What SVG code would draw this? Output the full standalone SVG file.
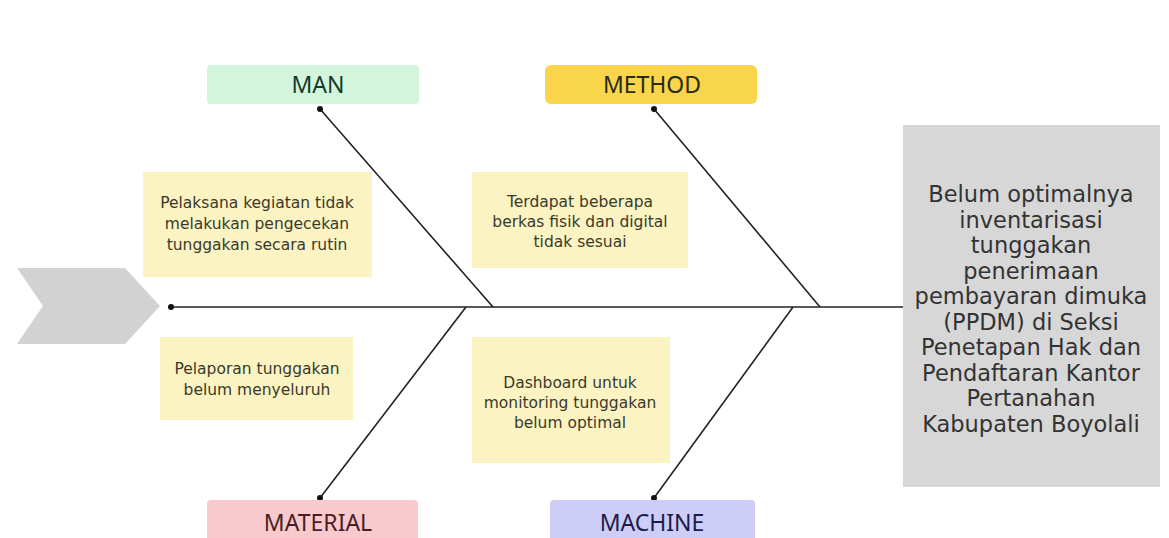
<svg xmlns="http://www.w3.org/2000/svg" width="1169" height="538" viewBox="0 0 1169 538">
<style>
.lbl{font-family:"Noto Sans","DejaVu Sans",sans-serif;font-size:23px;text-anchor:middle}
.cause{font-family:"DejaVu Sans","Noto Sans",sans-serif;font-size:15.5px;fill:#3a3a2a;text-anchor:middle}
.effect{font-family:"DejaVu Sans","Noto Sans",sans-serif;font-size:22.5px;fill:#333;text-anchor:middle}
.bone{stroke:#222;stroke-width:1.6;fill:none}
.dot{fill:#111}
.cbox{fill:#fbf3c2}
</style>
<rect width="1169" height="538" fill="#ffffff"/>
<g id="tail">
<path d="M17,268 L125,268 L160,306 L125,344 L17,344 L43,306 Z" fill="#d2d2d2"/>
</g>
<g id="connectors">
<line class="bone" x1="171" y1="307" x2="905" y2="307"/>
<circle class="dot" cx="171" cy="307" r="3"/>
<line class="bone" x1="320" y1="109" x2="493" y2="307"/>
<circle class="dot" cx="320" cy="109" r="3"/>
<line class="bone" x1="654" y1="109" x2="820" y2="307"/>
<circle class="dot" cx="654" cy="109" r="3"/>
<line class="bone" x1="320" y1="498" x2="466" y2="307"/>
<circle class="dot" cx="320" cy="498" r="3"/>
<line class="bone" x1="654" y1="498" x2="793" y2="307"/>
<circle class="dot" cx="654" cy="498" r="3"/>
</g>
<g id="man">
<rect x="207" y="65" width="212" height="39" rx="4" fill="#d3f5dc"/>
<text class="lbl" x="318" y="93" fill="#173a2b">MAN</text>
</g>
<g id="method">
<rect x="545" y="65" width="212" height="39" rx="6" fill="#f8d54b"/>
<text class="lbl" x="652" y="93" fill="#2b2a12">METHOD</text>
</g>
<g id="material">
<rect x="207" y="500" width="211" height="45" rx="4" fill="#f8c9cd"/>
<text class="lbl" x="318" y="531" fill="#4a1d24">MATERIAL</text>
</g>
<g id="machine">
<rect x="550" y="500" width="205" height="45" rx="4" fill="#cdcdf7"/>
<text class="lbl" x="652" y="531" fill="#1c1c4a">MACHINE</text>
</g>
<g id="cause-man">
<rect class="cbox" x="143" y="172" width="229" height="105"/>
<text class="cause" x="257" y="208">Pelaksana kegiatan tidak</text>
<text class="cause" x="257" y="229">melakukan pengecekan</text>
<text class="cause" x="257" y="250">tunggakan secara rutin</text>
</g>
<g id="cause-method">
<rect class="cbox" x="472" y="172" width="216" height="96"/>
<text class="cause" x="580" y="207">Terdapat beberapa</text>
<text class="cause" x="580" y="227">berkas fisik dan digital</text>
<text class="cause" x="580" y="247">tidak sesuai</text>
</g>
<g id="cause-material">
<rect class="cbox" x="160" y="337" width="193" height="83"/>
<text class="cause" x="257" y="374">Pelaporan tunggakan</text>
<text class="cause" x="257" y="395">belum menyeluruh</text>
</g>
<g id="cause-machine">
<rect class="cbox" x="472" y="337" width="198" height="126"/>
<text class="cause" x="570" y="388">Dashboard untuk</text>
<text class="cause" x="570" y="408">monitoring tunggakan</text>
<text class="cause" x="570" y="428">belum optimal</text>
</g>
<g id="effect">
<rect x="903" y="125" width="257" height="362" fill="#d7d7d7"/>
<text class="effect" x="1031" y="202">Belum optimalnya</text>
<text class="effect" x="1031" y="227.5">inventarisasi</text>
<text class="effect" x="1031" y="253">tunggakan</text>
<text class="effect" x="1031" y="278.5">penerimaan</text>
<text class="effect" x="1031" y="304">pembayaran dimuka</text>
<text class="effect" x="1031" y="329.5">(PPDM) di Seksi</text>
<text class="effect" x="1031" y="355">Penetapan Hak dan</text>
<text class="effect" x="1031" y="380.5">Pendaftaran Kantor</text>
<text class="effect" x="1031" y="406">Pertanahan</text>
<text class="effect" x="1031" y="431.5">Kabupaten Boyolali</text>
</g>
</svg>
